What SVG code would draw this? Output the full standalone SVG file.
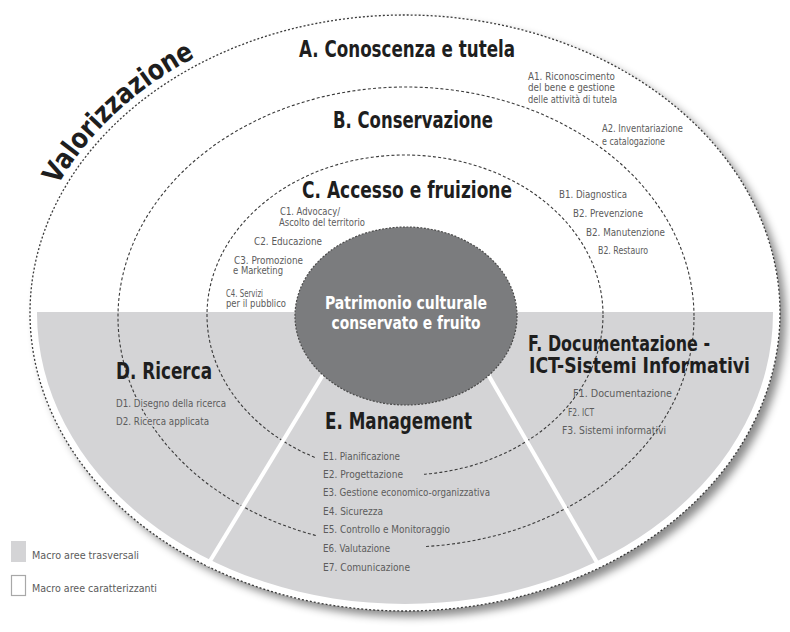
<svg xmlns="http://www.w3.org/2000/svg" width="790" height="632" viewBox="0 0 790 632">
  <defs>
    <style>
      .outer{fill:none;stroke:#3a3a3a;stroke-width:1.3;stroke-dasharray:2 2}
      .ring{fill:none;stroke:#3a3a3a;stroke-width:1.1;stroke-dasharray:3 2.2}
      .band{fill:#d4d4d6}
      .core{fill:#7b7c7e;stroke:#4a4a4a;stroke-width:1.2;stroke-dasharray:2 1.5}
      .div{stroke:#fff;stroke-width:4}
      .head{font-family:"Liberation Sans Narrow","DejaVu Sans Condensed","Liberation Sans",sans-serif;font-weight:bold;fill:#1e1e1e}
      .core-t{font-family:"Liberation Sans Narrow","DejaVu Sans Condensed","Liberation Sans",sans-serif;font-weight:bold;font-size:17px;fill:#fff;text-anchor:middle}
      .lbl{font-family:"Liberation Sans Narrow","DejaVu Sans Condensed","Liberation Sans",sans-serif;font-size:10.5px;fill:#5c5c5c;stroke:#fff;stroke-width:3.5;stroke-linejoin:round;paint-order:stroke}
      .lbl.g{stroke:#d4d4d6}
      .lbl.n{stroke:none}
    </style>
    <filter id="shadow" x="-5%" y="-5%" width="115%" height="115%">
      <feDropShadow dx="6" dy="6" stdDeviation="4" flood-color="#000" flood-opacity="0.45"/>
    </filter>
    <clipPath id="lowerHalf"><rect x="0" y="312" width="790" height="320"/></clipPath>
    <path id="valPath" d="M 23 313 A 382 306 0 0 1 405 7"/>
  </defs>

  <!-- outer area and lower transversal band -->
  <g id="outer-area">
    <ellipse cx="405" cy="313" rx="375" ry="298" fill="#fff" filter="url(#shadow)"/>
    <ellipse class="band" cx="405" cy="313" rx="368" ry="291" clip-path="url(#lowerHalf)"/>
    <ellipse class="outer" cx="405" cy="313" rx="375" ry="298"/>
  </g>

  <!-- inner dashed rings -->
  <g id="rings">
    <ellipse class="ring" cx="406" cy="317" rx="288" ry="230"/>
    <ellipse class="ring" cx="405" cy="315" rx="198" ry="160"/>
    <rect x="316" y="449" width="108" height="108" class="band"/>
  </g>

  <!-- white dividers between transversal areas -->
  <g id="connectors">
    <line class="div" x1="335" y1="355" x2="207" y2="566"/>
    <line class="div" x1="478" y1="357" x2="599" y2="566"/>
  </g>

  <g id="valorizzazione">
    <text class="head" font-size="28"><textPath href="#valPath" startOffset="134" textLength="190" lengthAdjust="spacingAndGlyphs">Valorizzazione</textPath></text>
  </g>

  <g id="area-a">
    <text class="head" x="299" y="57" font-size="23" textLength="216" lengthAdjust="spacingAndGlyphs">A. Conoscenza e tutela</text>
    <text class="lbl" x="528" y="80" textLength="87" lengthAdjust="spacingAndGlyphs">A1. Riconoscimento</text>
    <text class="lbl" x="528" y="91" textLength="87" lengthAdjust="spacingAndGlyphs">del bene e gestione</text>
    <text class="lbl" x="528" y="103" textLength="89" lengthAdjust="spacingAndGlyphs">delle attività di tutela</text>
    <text class="lbl" x="602" y="132" textLength="81" lengthAdjust="spacingAndGlyphs">A2. Inventariazione</text>
    <text class="lbl" x="602" y="145" textLength="63" lengthAdjust="spacingAndGlyphs">e catalogazione</text>
  </g>

  <g id="area-b">
    <text class="head" x="333" y="128" font-size="23" textLength="160" lengthAdjust="spacingAndGlyphs">B. Conservazione</text>
    <text class="lbl" x="559" y="198" textLength="68" lengthAdjust="spacingAndGlyphs">B1. Diagnostica</text>
    <text class="lbl" x="573" y="217" textLength="70" lengthAdjust="spacingAndGlyphs">B2. Prevenzione</text>
    <text class="lbl" x="586" y="236" textLength="79" lengthAdjust="spacingAndGlyphs">B2. Manutenzione</text>
    <text class="lbl" x="598" y="254" textLength="50" lengthAdjust="spacingAndGlyphs">B2. Restauro</text>
  </g>

  <g id="area-c">
    <text class="head" x="302" y="198" font-size="23" textLength="210" lengthAdjust="spacingAndGlyphs">C. Accesso e fruizione</text>
    <text class="lbl" x="280" y="215" textLength="60" lengthAdjust="spacingAndGlyphs">C1. Advocacy/</text>
    <text class="lbl" x="279" y="226" textLength="86" lengthAdjust="spacingAndGlyphs">Ascolto del territorio</text>
    <text class="lbl" x="254" y="245" textLength="68" lengthAdjust="spacingAndGlyphs">C2. Educazione</text>
    <text class="lbl" x="234" y="264" textLength="69" lengthAdjust="spacingAndGlyphs">C3. Promozione</text>
    <text class="lbl" x="233" y="274" textLength="50" lengthAdjust="spacingAndGlyphs">e Marketing</text>
    <text class="lbl" x="226" y="297" textLength="37" lengthAdjust="spacingAndGlyphs">C4. Servizi</text>
    <text class="lbl" x="226" y="307" textLength="60" lengthAdjust="spacingAndGlyphs">per il pubblico</text>
  </g>

  <g id="area-d">
    <text class="head" x="116" y="379" font-size="23" textLength="96" lengthAdjust="spacingAndGlyphs">D. Ricerca</text>
    <text class="lbl g" x="116" y="407" textLength="110" lengthAdjust="spacingAndGlyphs">D1. Disegno della ricerca</text>
    <text class="lbl g" x="116" y="425" textLength="93" lengthAdjust="spacingAndGlyphs">D2. Ricerca applicata</text>
  </g>

  <g id="area-e">
    <text class="head" x="325" y="429" font-size="23" textLength="147" lengthAdjust="spacingAndGlyphs">E. Management</text>
    <text class="lbl g" x="323" y="460" textLength="77" lengthAdjust="spacingAndGlyphs">E1. Pianificazione</text>
    <text class="lbl g" x="323" y="478" textLength="80" lengthAdjust="spacingAndGlyphs">E2. Progettazione</text>
    <text class="lbl g" x="323" y="496" textLength="167" lengthAdjust="spacingAndGlyphs">E3. Gestione economico-organizzativa</text>
    <text class="lbl g" x="323" y="515" textLength="60" lengthAdjust="spacingAndGlyphs">E4. Sicurezza</text>
    <text class="lbl g" x="323" y="533" textLength="127" lengthAdjust="spacingAndGlyphs">E5. Controllo e Monitoraggio</text>
    <text class="lbl g" x="323" y="552" textLength="67" lengthAdjust="spacingAndGlyphs">E6. Valutazione</text>
    <text class="lbl g" x="323" y="571" textLength="87" lengthAdjust="spacingAndGlyphs">E7. Comunicazione</text>
  </g>

  <g id="area-f">
    <text class="head" x="528" y="351" font-size="22" textLength="182" lengthAdjust="spacingAndGlyphs">F. Documentazione -</text>
    <text class="head" x="529" y="373" font-size="22" textLength="221" lengthAdjust="spacingAndGlyphs">ICT-Sistemi Informativi</text>
    <text class="lbl n" x="573" y="397" textLength="99" lengthAdjust="spacingAndGlyphs">F1. Documentazione</text>
    <text class="lbl n" x="568" y="416" textLength="26" lengthAdjust="spacingAndGlyphs">F2. ICT</text>
    <text class="lbl n" x="562" y="434" textLength="104" lengthAdjust="spacingAndGlyphs">F3. Sistemi informativi</text>
  </g>

  <g id="core">
    <ellipse class="core" cx="406" cy="316" rx="111" ry="89"/>
    <text class="core-t" x="406" y="309" textLength="162" lengthAdjust="spacingAndGlyphs">Patrimonio culturale</text>
    <text class="core-t" x="406" y="329" textLength="149" lengthAdjust="spacingAndGlyphs">conservato e fruito</text>
  </g>

  <g id="legend">
    <rect class="band" x="11" y="541" width="15" height="21"/>
    <text class="lbl n" x="32" y="559" textLength="107" lengthAdjust="spacingAndGlyphs">Macro aree trasversali</text>
    <rect x="11.5" y="575.5" width="14" height="20" fill="#fff" stroke="#a8a8a8" stroke-width="1.2"/>
    <text class="lbl n" x="32" y="592" textLength="125" lengthAdjust="spacingAndGlyphs">Macro aree caratterizzanti</text>
  </g>
</svg>
